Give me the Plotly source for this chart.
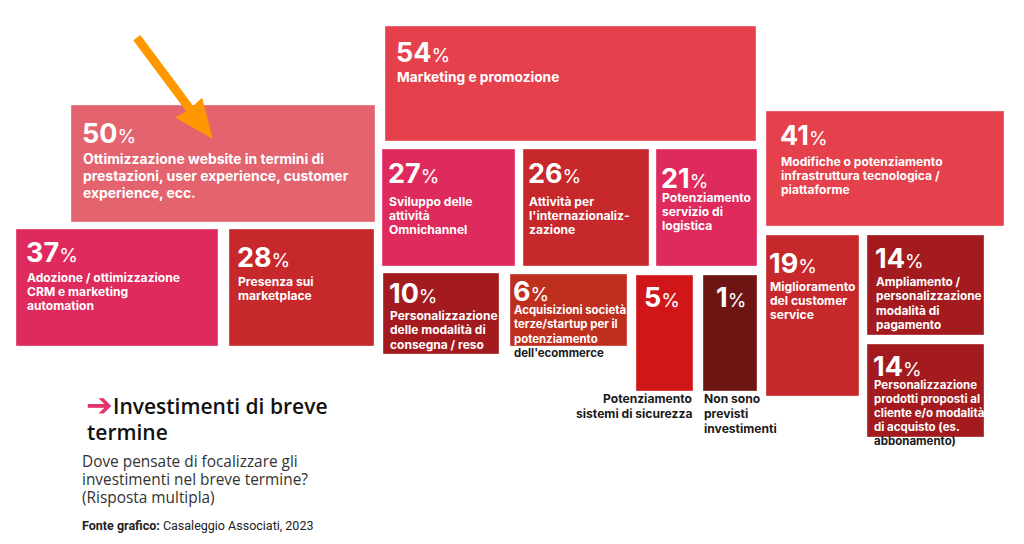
import plotly.graph_objects as go

# ---------------- data ----------------
values = [54, 50, 41, 37, 28, 27, 26, 21, 19, 14, 14, 10, 6, 5, 1]
labels = [
    "Marketing e promozione",
    "Ottimizzazione website in termini di<br>prestazioni, user experience, customer<br>experience, ecc.",
    "Modifiche o potenziamento<br>infrastruttura tecnologica /<br>piattaforme",
    "Adozione / ottimizzazione<br>CRM e marketing<br>automation",
    "Presenza sui<br>marketplace",
    "Sviluppo delle<br>attività<br>Omnichannel",
    "Attività per<br>l'internazionaliz-<br>zazione",
    "Potenziamento<br>servizio di<br>logistica",
    "Miglioramento<br>del customer<br>service",
    "Ampliamento /<br>personalizzazione<br>modalità di<br>pagamento",
    "Personalizzazione<br>prodotti proposti al<br>cliente e/o modalità<br>di acquisto (es.<br><span style='color:#1a1a1a'>abbonamento)</span>",
    "Personalizzazione<br>delle modalità di<br>consegna / reso",
    "Acquisizioni società<br>terze/startup per il<br>potenziamento<br><span style='color:#1a1a1a'>dell'ecommerce</span>",
    "Potenziamento<br>sistemi di sicurezza",
    "Non sono<br>previsti<br>investimenti",
]
title_lines = ["Investimenti di breve", "termine"]
subtitle_lines = ["Dove pensate di focalizzare gli", "investimenti nel breve termine?", "(Risposta multipla)"]
source_text = "<b>Fonte grafico:</b> Casaleggio Associati, 2023"

# ---------------- layout of the tiles (pixel space) ----------------
# x0, y0, x1, y1, text_x, number_y, label_y(first line centre), label_size, line_gap, label_mode
boxes = [
    (385, 26, 756, 141, 397, 52, 77, 13.7, 17, "in"),
    (71, 105, 375, 222, 83, 133, 159, 13.9, 17, "in"),
    (766, 111, 1004, 226, 781, 135, 161, 12.1, 14.3, "in"),
    (16, 229, 218, 346, 27, 252, 277, 12.1, 14.3, "in"),
    (229, 229, 374, 346, 238, 257, 281, 12.1, 14.3, "in"),
    (382, 149, 515, 266, 389, 173, 201, 12.1, 14.3, "in"),
    (523, 149, 649, 266, 529, 173, 201, 12.1, 14.3, "in"),
    (656, 149, 757, 266, 662, 178, 197, 12.1, 14.3, "in"),
    (766, 235, 859, 396, 770, 263, 286, 12.1, 14.3, "in"),
    (867, 235, 984, 335, 876, 258, 282, 11.8, 14.3, "in"),
    (867, 344, 984, 437, 874, 366, 385, 11.5, 14.0, "in"),
    (383, 273, 499, 354, 390, 293, 315, 12.0, 14.5, "in"),
    (510, 274, 627, 346, 514, 291, 310, 11.4, 14.3, "in"),
    (636, 275, 693, 391, 645, 297, 398, 12.1, 15.0, "below_right"),
    (703, 275, 757, 391, 717, 297, 398, 12.1, 15.0, "below_left"),
]
colors = ["#E5414C", "#E3646F", "#E5414C", "#DE2A5C", "#C7282B", "#DE2A5C", "#C7282B",
          "#DE2A5C", "#C7282B", "#A31B1E", "#A31B1E", "#A31B1E", "#BE2F1D", "#D01619", "#6D1513"]

FONT = "Inter"
HEAD_FONT = "Open Sans"
fig = go.Figure()
shapes = []
annotations = []


def text_line(x, y, txt, size, color, family=FONT, xanchor="left", weight="normal"):
    annotations.append(dict(
        x=x, y=y, xref="x", yref="y", xanchor=xanchor, yanchor="middle",
        text=txt, showarrow=False, align=xanchor, borderpad=0,
        font=dict(family=family, size=size, color=color, weight=weight)))


for v, lab, b, c in zip(values, labels, boxes, colors):
    x0, y0, x1, y1, tx, ny, ly, ls, gap, mode = b
    shapes.append(dict(type="rect", xref="x", yref="y", x0=x0, x1=x1, y0=y0, y1=y1,
                       fillcolor=c, line=dict(color="rgba(255,255,255,0.35)", width=1),
                       layer="below"))
    annotations.append(dict(
        x=tx - 2, y=ny, xref="x", yref="y", xanchor="left", yanchor="middle", borderpad=0,
        text=f"<b>{v}</b><span style='font-size:19px;font-weight:normal;'>%</span>",
        showarrow=False, font=dict(family=FONT, size=27, color="white"), align="left"))
    for i, line in enumerate(lab.split("<br>")):
        yy = ly + i * gap
        if mode == "in":
            text_line(tx - 1, yy, f"<b>{line}</b>", ls, "white")
        elif mode == "below_right":
            text_line(x1, yy, f"<b>{line}</b>", ls, "#1a1a1a", xanchor="right")
        else:
            text_line(x0, yy, f"<b>{line}</b>", ls, "#1a1a1a")

# orange pointer arrow (decoration)
arrow_path = "M140.2,35.6 L193.2,106.6 L201.8,98.4 L212,138 L176.2,117.6 L186.8,111.4 L133.8,40.4 Z"
shapes.append(dict(type="path", xref="x", yref="y", path=arrow_path,
                   fillcolor="#FF9800", line=dict(color="#FF9800", width=1)))

# title block
text_line(85, 405, "➔", 32, "#E2336B", family="DejaVu Sans", weight="bold")
text_line(112, 406, title_lines[0], 21, "#111111", family=HEAD_FONT, weight=600)
text_line(86, 432, title_lines[1], 21, "#111111", family=HEAD_FONT, weight=600)
for i, line in enumerate(subtitle_lines):
    text_line(81, 461 + i * 18, line, 15.4, "#333333", family=HEAD_FONT)
text_line(81, 525, source_text, 12.5, "#222222", family="Roboto")

fig.add_trace(go.Scatter(x=[8, 1024], y=[8, 544], mode="markers",
                         marker=dict(opacity=0), hoverinfo="skip", showlegend=False))

# the page body adds an 8px margin, so the figure covers pixels 8..1024 / 8..544
fig.update_layout(
    width=1016, height=536, margin=dict(l=0, r=0, t=0, b=0),
    paper_bgcolor="white", plot_bgcolor="white",
    xaxis=dict(range=[8, 1024], visible=False, fixedrange=True),
    yaxis=dict(range=[544, 8], visible=False, fixedrange=True),
    shapes=shapes, annotations=annotations, showlegend=False,
)

fig.write_html("out.html")
